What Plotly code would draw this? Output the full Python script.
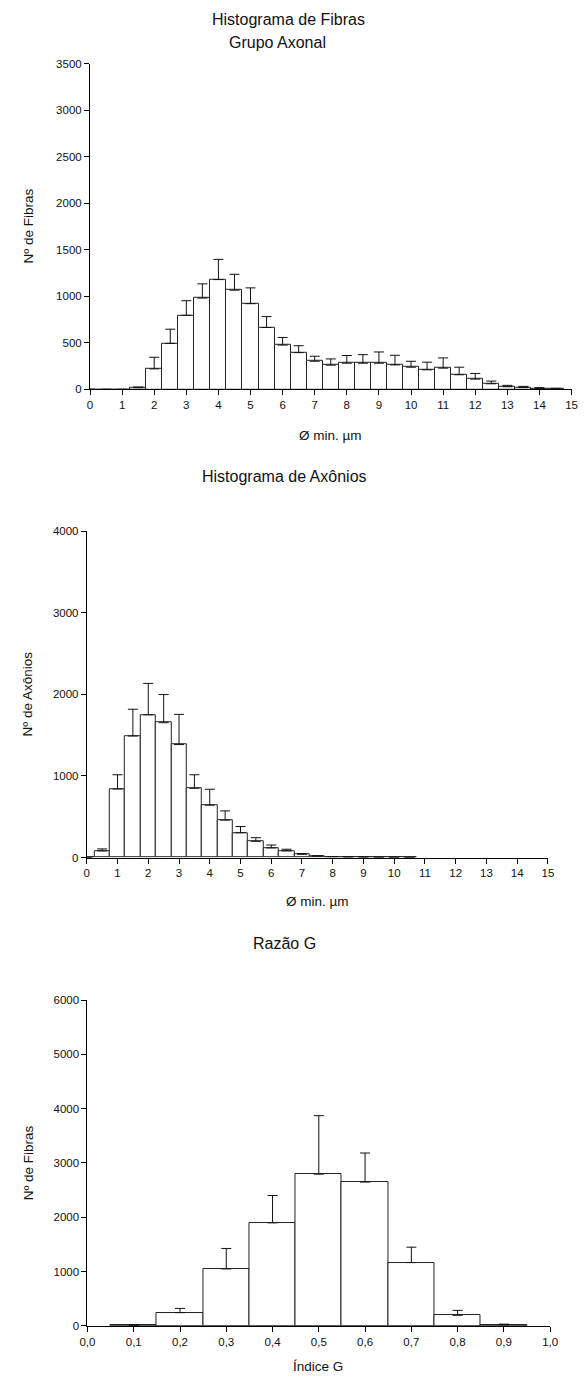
import plotly.graph_objects as go

# ---- Histograma de Fibras (Grupo Axonal) ----
fib_centers = [i * 0.5 for i in range(30)]
fib_counts = [0, 0, 0, 18, 220, 494, 796, 981, 1180, 1066, 921, 665, 476, 395, 302,
              260, 281, 281, 281, 263, 238, 210, 228, 157, 110, 60, 28, 21, 11, 7]
fib_sd = [0, 0, 0, 7, 125, 153, 157, 153, 217, 171, 170, 117, 82, 74, 54,
          67, 83, 92, 121, 103, 64, 82, 110, 81, 61, 29, 15, 11, 7, 4]

# ---- Histograma de Axônios ----
axo_centers = [i * 0.5 for i in range(22)]
axo_counts = [0, 82, 840, 1490, 1750, 1653, 1385, 849, 642, 459, 304, 199, 118, 82,
              41, 18, 10, 6, 4, 3, 2, 0]
axo_sd = [0, 24, 175, 328, 385, 345, 370, 166, 195, 113, 77, 45, 36, 20,
          8, 4, 3, 2, 2, 1, 1, 0]

# ---- Razão G ----
g_centers = [0.1, 0.2, 0.3, 0.4, 0.5, 0.6, 0.7, 0.8, 0.9]
g_counts = [6, 242, 1047, 1896, 2793, 2647, 1164, 193, 18]
g_sd = [8, 78, 377, 504, 1077, 535, 284, 91, 12]

W, H = 588, 1387
FONT = "Liberation Sans, Arial, sans-serif"
INK = "#111111"
TICK_SIZE = 11.5
AXTITLE_SIZE = 13.5
TITLE_SIZE = 16


def py(px):
    """Pixel row (from top) -> paper fraction."""
    return 1 - px / H


def px_(px):
    return px / W


fig = go.Figure()


def add_hist(x, y, sd, width, xa, ya):
    fig.add_trace(go.Bar(
        x=x, y=y, width=width,
        marker=dict(color="white", line=dict(color="#222222", width=1)),
        error_y=dict(type="data", array=sd, arrayminus=[0] * len(sd), symmetric=False,
                     color="#111111", thickness=1, width=5),
        xaxis=xa, yaxis=ya, showlegend=False, hoverinfo="x+y",
    ))


add_hist(fib_centers, fib_counts, fib_sd, 0.5, "x", "y")
add_hist(axo_centers, axo_counts, axo_sd, 0.5, "x2", "y2")
add_hist(g_centers, g_counts, g_sd, 0.1, "x3", "y3")

axis_common = dict(showline=True, linecolor="black", linewidth=1, ticks="outside",
                   ticklen=5, tickcolor="black", tickwidth=1, showgrid=False,
                   zeroline=False, tickfont=dict(family=FONT, size=TICK_SIZE, color=INK),
                   fixedrange=True)

fig.update_layout(
    width=W, height=H, margin=dict(l=0, r=0, t=0, b=0),
    paper_bgcolor="white", plot_bgcolor="white",
    bargap=0, separators=",.",
    font=dict(family=FONT, color=INK),
    xaxis=dict(domain=[px_(84.3), px_(579.3)], range=[0, 15], tickmode="linear",
               tick0=0, dtick=1, anchor="y", **axis_common),
    yaxis=dict(domain=[py(386.7), py(58.3)], range=[0, 3500], tickmode="linear",
               tick0=0, dtick=500, anchor="x", **axis_common),
    xaxis2=dict(domain=[px_(81), px_(555)], range=[0, 15], tickmode="linear",
                tick0=0, dtick=1, anchor="y2", **axis_common),
    yaxis2=dict(domain=[py(859), py(529.8)], range=[0, 4000], tickmode="linear",
                tick0=0, dtick=1000, anchor="x2", **axis_common),
    xaxis3=dict(domain=[px_(81.7), px_(557.3)], range=[0, 1], tickmode="linear",
                tick0=0, dtick=0.1, tickformat=".1f", anchor="y3", **axis_common),
    yaxis3=dict(domain=[py(1331.3), py(1002.7)], range=[0, 6000], tickmode="linear",
                tick0=0, dtick=1000, anchor="x3", **axis_common),
)


def label(text, x, y, size, angle=0):
    fig.add_annotation(text=text, x=px_(x), y=py(y), xref="paper", yref="paper",
                       showarrow=False, textangle=angle, xanchor="center",
                       yanchor="middle", font=dict(family=FONT, size=size, color=INK))


# chart titles
label("Histograma de Fibras", 288, 14, TITLE_SIZE)
label("Grupo Axonal", 277, 37, TITLE_SIZE)
label("Histograma de Axônios", 284, 475, TITLE_SIZE)
label("Razão G", 284, 946, TITLE_SIZE)

# axis titles
label("Nº de Fibras", 21, 222, AXTITLE_SIZE, angle=-90)
label("Ø min. µm", 332, 433, AXTITLE_SIZE)
label("Nº de Axônios", 21, 694, AXTITLE_SIZE, angle=-90)
label("Ø min. µm", 318, 903, AXTITLE_SIZE)
label("Nº de Fibras", 21, 1167, AXTITLE_SIZE, angle=-90)
label("Índice G", 319, 1372, AXTITLE_SIZE)

fig.write_html("out.html")
